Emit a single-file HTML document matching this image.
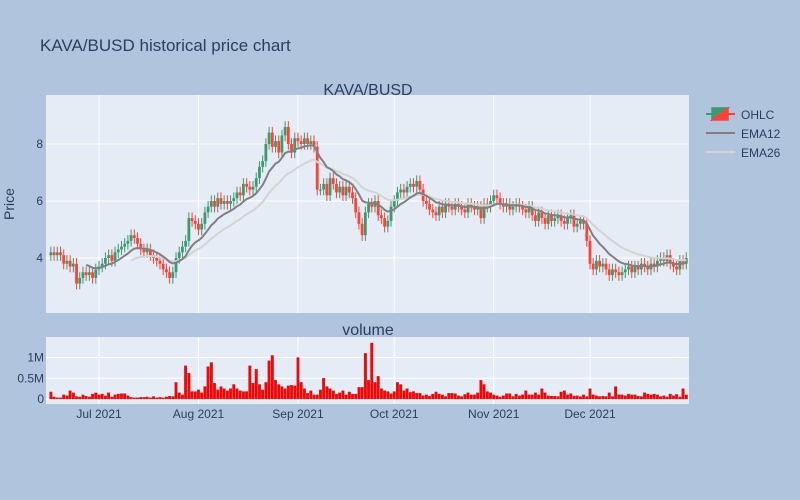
<!DOCTYPE html>
<html><head><meta charset="utf-8"><style>
body{margin:0;background:#b0c4de;}
svg{display:block;font-family:"Liberation Sans",sans-serif;}
</style></head><body>
<svg id="chart" width="800" height="500" viewBox="0 0 800 500">
<rect x="0" y="0" width="800" height="500" fill="#b0c4de"/>
<text x="40" y="51" font-size="17" fill="#2a3f5f">KAVA/BUSD historical price chart</text>
<rect x="46" y="95" width="643" height="218" fill="#e5ecf6"/>
<rect x="46" y="337" width="643" height="67" fill="#e5ecf6"/>
<text x="368" y="95" font-size="16" fill="#2a3f5f" text-anchor="middle">KAVA/BUSD</text>
<text x="368" y="335" font-size="16" fill="#2a3f5f" text-anchor="middle">volume</text>
<text x="14" y="204" font-size="14" fill="#2a3f5f" text-anchor="middle" transform="rotate(-90 14 204)">Price</text>
<g id="grid"></g><g id="marks"></g><g id="axes"></g>
<g>
<g>
<line x1="706" y1="114" x2="735" y2="114" stroke="#3D9970" stroke-width="2"/>
<line x1="720" y1="114" x2="735" y2="114" stroke="#FF4136" stroke-width="2"/>
<polygon points="712,108 728,108 712,120" fill="#3D9970" stroke="#3D9970" stroke-width="1.5"/>
<polygon points="728,108 728,120 712,120" fill="#FF4136" stroke="#FF4136" stroke-width="1.5"/>
<text x="741" y="119" font-size="12" fill="#2a3f5f">OHLC</text></g>
<g>
<line x1="706" y1="133" x2="735" y2="133" stroke="#808080" stroke-width="2"/>
<text x="741" y="138" font-size="12" fill="#2a3f5f">EMA12</text></g>
<g>
<line x1="706" y1="152" x2="735" y2="152" stroke="#d3d3d3" stroke-width="2"/>
<text x="741" y="157" font-size="12" fill="#2a3f5f">EMA26</text></g>
</g>
</svg>
<script>
const startDate = "2021-06-16";
const closes = [4.2,4.1,4.2,4.1,3.8,3.9,3.7, 3.8,3.1,3.3,3.5,3.4,3.5,3.3, 3.6,3.7,3.8,4.0,4.1,3.9,4.2,
4.3,4.4,4.5,4.6,4.8,4.7,4.5, 4.3,4.2,4.3,4.1,4.0,3.9,3.8, 3.6,3.5,3.3,3.5,4.0,4.2,4.4,
4.6,5.4,5.3,5.2,5.0,5.2,5.6, 5.8,6.0,5.8,6.1,5.9,6.0,5.9, 6.0,6.1,6.3,6.2,6.6,6.5,6.4,
6.5,6.8,7.2,7.4,8.0,8.4,7.9, 8.1,7.7,8.3,8.6,8.0,7.7,8.2, 8.1,8.0,8.2,8.0,8.1,7.9,6.4,
6.4,6.6,6.2,6.8,6.6,6.3,6.5, 6.2,6.5,6.3,6.1,5.6,5.2,4.8, 5.6,5.9,5.8,6.0,5.5,5.4,5.1,
5.3,5.8,6.0,6.3,6.4,6.3,6.5, 6.6,6.5,6.7,6.4,6.0,5.9,5.7, 5.6,5.5,5.8,5.6,5.9,5.8,5.7,
5.9,5.8,5.7,5.6,5.9,5.8,5.7, 5.8,5.4,5.9,5.8,6.0,6.2,6.1, 5.9,5.8,5.9,5.7,5.8,5.9,5.8,
5.7,5.6,5.8,5.5,5.3,5.6,5.4, 5.2,5.5,5.3,5.4,5.5,5.3,5.2, 5.4,5.5,5.1,5.2,5.3,5.2,4.6,
3.8,3.6,3.9,3.7,3.8,3.6,3.4, 3.6,3.5,3.4,3.5,3.6,3.7,3.5, 3.7,3.6,3.8,3.7,3.6,3.8,3.7,
3.9,4.0,3.9,4.1,3.8,3.7,3.6, 3.9,3.8,4.0];
const firstOpen = 4.1;
const wickUp = 0.2, wickDown = 0.2;
const volumes = [0.17,0.05,0.03,0.03,0.1,0.08,0.2, 0.15,0.06,0.05,0.1,0.07,0.05,0.12, 0.15,0.1,0.12,0.08,0.15,0.05,0.1,
0.12,0.13,0.13,0.08,0.04,0.03,0.03, 0.04,0.04,0.05,0.03,0.06,0.03,0.04, 0.03,0.05,0.07,0.06,0.4,0.15,0.1,
0.8,0.62,0.18,0.18,0.22,0.15,0.3, 0.78,0.88,0.38,0.22,0.3,0.25,0.2, 0.25,0.35,0.25,0.2,0.18,0.18,0.8,
0.38,0.72,0.35,0.22,0.4,0.92,1.05, 0.45,0.35,0.3,0.25,0.32,0.33,0.32, 1.0,0.4,0.25,0.14,0.2,0.1,0.1,
0.22,0.5,0.3,0.25,0.2,0.12,0.15, 0.2,0.1,0.17,0.12,0.12,0.28,0.28, 1.1,0.45,1.35,0.4,0.55,0.25,0.2,
0.18,0.13,0.18,0.4,0.35,0.2,0.25, 0.16,0.18,0.14,0.14,0.08,0.1,0.07, 0.12,0.17,0.12,0.1,0.06,0.14,0.14,
0.13,0.08,0.06,0.11,0.15,0.1,0.1, 0.15,0.45,0.35,0.18,0.15,0.1,0.08, 0.05,0.08,0.13,0.13,0.06,0.12,0.08,
0.1,0.2,0.1,0.1,0.15,0.1,0.25, 0.15,0.08,0.07,0.07,0.06,0.17,0.2, 0.1,0.13,0.07,0.08,0.06,0.1,0.06,
0.25,0.1,0.08,0.06,0.07,0.06,0.15, 0.06,0.3,0.1,0.1,0.08,0.12,0.1, 0.1,0.07,0.06,0.15,0.12,0.1,0.12,
0.1,0.06,0.08,0.05,0.12,0.08,0.11, 0.05,0.25,0.1];
const priceTicks = [4,6,8];
const volTicks = [0,0.5,1];
const volTickLabels = ["0","0.5M","1M"];
const xTickDates = ["2021-07-01","2021-08-01","2021-09-01","2021-10-01","2021-11-01","2021-12-01"];
const xTickLabels = ["Jul 2021","Aug 2021","Sep 2021","Oct 2021","Nov 2021","Dec 2021"];

const NS="http://www.w3.org/2000/svg";
const DAY=86400000, t0=Date.parse(startDate);
const xRef=Date.parse("2021-07-01"), xPx=99, pxPerDay=491/153;
function xs(t){return xPx+(t-xRef)/DAY*pxPerDay;}
function xi(i){return xs(t0+i*DAY);}
function yp(v){return 144+(8-v)*28.5;}
function yv(v){return 399-v*41.5;}
function mk(tag,attrs,parent){const e=document.createElementNS(NS,tag);for(const k in attrs)e.setAttribute(k,attrs[k]);parent.appendChild(e);return e;}
const grid=document.getElementById('grid'), marks=document.getElementById('marks'), axes=document.getElementById('axes');

priceTicks.forEach(v=>{
  const l=mk('line',{x1:46,x2:689,y1:yp(v),y2:yp(v),stroke:'#fff','stroke-width':1},grid);
  
  
  const t=mk('text',{x:43,y:yp(v)+4,'font-size':12,fill:'#2a3f5f','text-anchor':'end'},axes);t.textContent=v;
  
  
});
volTicks.forEach((v,k)=>{
  const l=mk('line',{x1:46,x2:689,y1:yv(v),y2:yv(v),stroke:'#fff','stroke-width':1},grid);
  
  
  const t=mk('text',{x:44,y:yv(v)+4,'font-size':12,fill:'#2a3f5f','text-anchor':'end'},axes);t.textContent=volTickLabels[k];
  
  
});
xTickDates.forEach((d,k)=>{
  const x=xs(Date.parse(d));
  const l1=mk('line',{x1:x,x2:x,y1:95,y2:313,stroke:'#fff','stroke-width':1},grid);
  
  
  const l2=mk('line',{x1:x,x2:x,y1:337,y2:404,stroke:'#fff','stroke-width':1},grid);
  
  
  const t=mk('text',{x:x,y:418,'font-size':12,fill:'#2a3f5f','text-anchor':'middle'},axes);t.textContent=xTickLabels[k];
  
  
});

volumes.forEach((v,i)=>{
  const x=xi(i);
  const r=mk('rect',{x:x-1.3,y:yv(v),width:2.6,height:Math.max(0.5,yv(0)-yv(v)),fill:'#ff0000',stroke:'#b22222','stroke-width':0.3},marks);
  
  
});

closes.forEach((c,i)=>{
  const o=i===0?firstOpen:closes[i-1];
  const hi=Math.max(o,c)+wickUp, lo=Math.min(o,c)-wickDown;
  const col=c>=o?'#3D9970':'#FF4136';
  const x=xi(i);
  const g=mk('g',{},marks);
  
  
  mk('line',{x1:x,x2:x,y1:yp(hi),y2:yp(lo),stroke:col,'stroke-width':1},g);
  const top=yp(Math.max(o,c)), bot=yp(Math.min(o,c));
  mk('rect',{x:x-1.4,y:top,width:2.8,height:Math.max(1,bot-top),fill:col},g);
});

function ema(n){
  const out=[];let e=null;const a=2/(n+1);
  for(let i=0;i<closes.length;i++){
    if(i<n-1){out.push(null);continue;}
    if(e===null){let s=0;for(let j=i-n+1;j<=i;j++)s+=closes[j];e=s/n;}
    else e=a*closes[i]+(1-a)*e;
    out.push(e);
  }
  return out;
}
[[26,'#d3d3d3','ema26-line'],[12,'#808080','ema12-line']].forEach(([n,col,name])=>{
  const vals=ema(n);let d='';
  vals.forEach((v,i)=>{if(v===null)return;d+=(d?'L':'M')+xi(i).toFixed(1)+','+yp(v).toFixed(1);});
  const p=mk('path',{d:d,fill:'none',stroke:col,'stroke-width':2},marks);
  
  
});
</script>
</body></html>
